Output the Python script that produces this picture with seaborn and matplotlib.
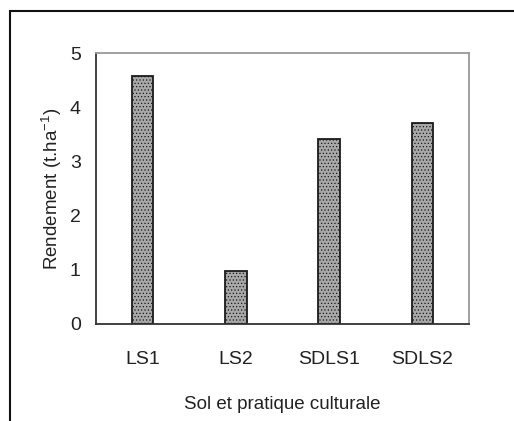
import matplotlib
matplotlib.use("Agg")
import matplotlib.pyplot as plt
import seaborn as sns
import pandas as pd
from matplotlib.patches import Rectangle

categories = ["LS1", "LS2", "SDLS1", "SDLS2"]
rendement = [4.58, 0.98, 3.41, 3.71]

df = pd.DataFrame({"sol": categories, "rendement": rendement})

sns.set_style("white")
plt.rcParams["font.family"] = ["Liberation Sans Narrow", "Liberation Sans", "DejaVu Sans"]
plt.rcParams["hatch.linewidth"] = 0.5

fig = plt.figure(figsize=(5.14, 4.21), dpi=100)
ax = fig.add_axes([96 / 514, 1 - 324 / 421, (469 - 96) / 514, (324 - 53) / 421])

sns.barplot(data=df, x="sol", y="rendement", color="#a8a8a8", width=0.23,
            edgecolor="#1a1a1a", linewidth=1.3, saturation=1, ax=ax)
for p in ax.patches:
    p.set_hatch(".....")

ax.set_ylim(0, 5)
ax.set_yticks([0, 1, 2, 3, 4, 5])
ax.tick_params(axis="both", length=0, labelsize=14, colors="#222222")
ax.tick_params(axis="x", pad=19.5)
ax.tick_params(axis="y", pad=11)
ax.set_xlabel("Sol et pratique culturale", fontsize=13.5, color="#222222", labelpad=20)
ax.set_ylabel(r"Rendement (t.ha$^{\mathregular{-1}}$)", fontsize=13.5, color="#222222", labelpad=4)

for side in ["left", "bottom"]:
    ax.spines[side].set_color("#333333")
    ax.spines[side].set_linewidth(1.3)
for side in ["top", "right"]:
    ax.spines[side].set_color("#999999")
    ax.spines[side].set_linewidth(1.3)

fig.patches.append(Rectangle((10 / 514, -0.05), 1.1, 1 - 11 / 421 + 0.05,
                             transform=fig.transFigure, fill=False,
                             edgecolor="#111111", linewidth=1.5))

fig.savefig("out.png", dpi=100)
